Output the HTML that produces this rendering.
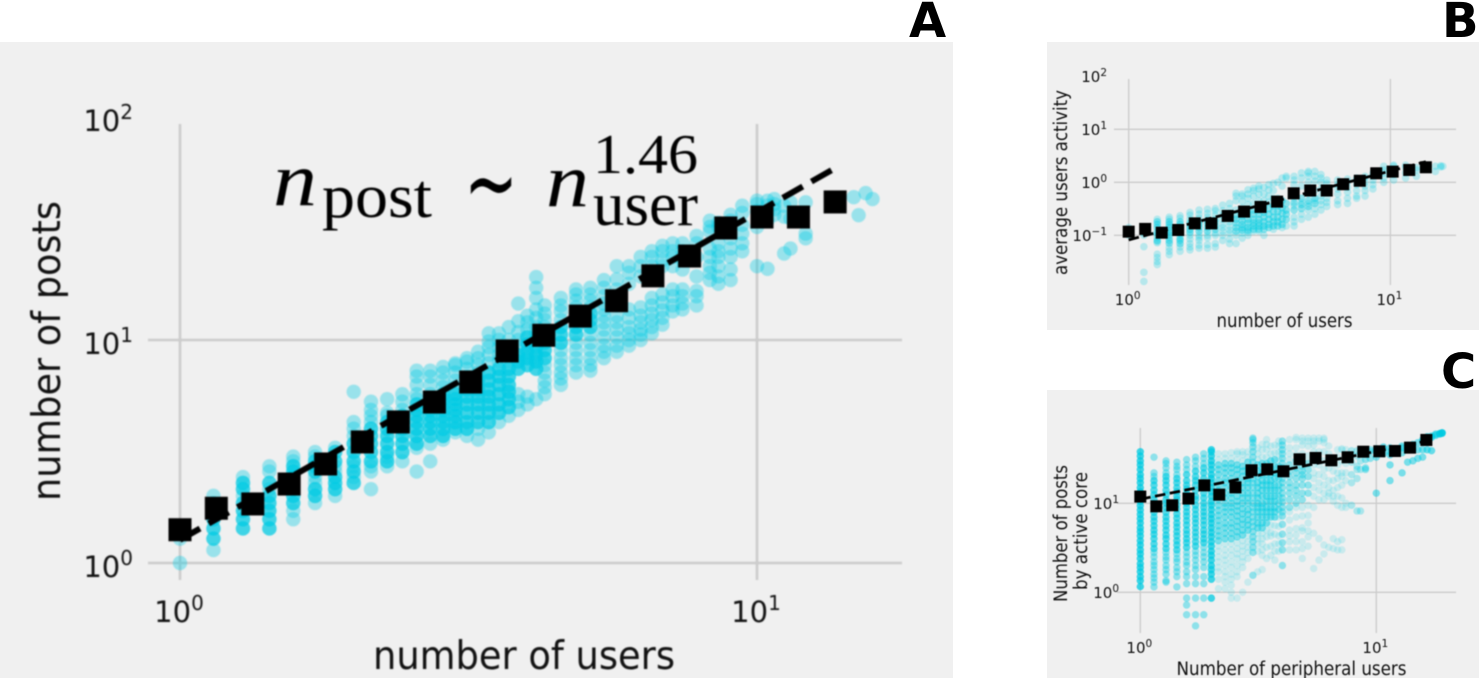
<!DOCTYPE html>
<html lang="en">
<head>
<meta charset="utf-8">
<title>Posts versus users scaling</title>
<style>
html,body{margin:0;padding:0;background:#fff;width:1479px;height:678px;overflow:hidden}
svg{display:block;position:absolute;left:0;top:0}
text{font-family:"DejaVu Sans","Liberation Sans",sans-serif;fill:#111}
.math{font-family:"Liberation Serif",serif;fill:#000}
.letter{font-weight:bold;font-size:48px;fill:#000}
.soft-a{filter:blur(.7px)}
.soft-b{filter:blur(.45px)}
</style>
</head>
<body>
<svg id="figure" width="1479" height="678" viewBox="0 0 1479 678" xmlns="http://www.w3.org/2000/svg">
  <rect x="0" y="42" width="953" height="636" fill="#f0f0f0"/>
  <rect x="1047" y="42" width="432" height="288" fill="#f0f0f0"/>
  <rect x="1047" y="390" width="432" height="288" fill="#f0f0f0"/>
  <g id="panelA" class="soft-a"></g>
  <g id="panelB" class="soft-b"></g>
  <g id="panelC" class="soft-b"></g>

  <g class="soft-a">
    <text x="524" y="669" font-size="39" text-anchor="middle" textLength="302" lengthAdjust="spacingAndGlyphs">number of users</text>
    <text transform="translate(60 351) rotate(-90)" font-size="39" text-anchor="middle" textLength="300" lengthAdjust="spacingAndGlyphs">number of posts</text>
    <text class="math" x="273" y="205" font-size="76" font-style="italic" textLength="44" lengthAdjust="spacingAndGlyphs">n</text>
    <text class="math" x="322" y="217" font-size="62" textLength="110" lengthAdjust="spacingAndGlyphs">post</text>
    <text class="math" x="464" y="217" font-size="100" textLength="54" lengthAdjust="spacingAndGlyphs">∼</text>
    <text class="math" x="546" y="206" font-size="76" font-style="italic" textLength="43" lengthAdjust="spacingAndGlyphs">n</text>
    <text class="math" x="593" y="225" font-size="62" textLength="105" lengthAdjust="spacingAndGlyphs">user</text>
    <text class="math" x="593" y="173" font-size="56" textLength="105" lengthAdjust="spacingAndGlyphs">1.46</text>
  </g>
  <g class="soft-b">
    <text x="1284.5" y="327" font-size="18.5" text-anchor="middle" textLength="136" lengthAdjust="spacingAndGlyphs">number of users</text>
    <text transform="translate(1067 182.5) rotate(-90)" font-size="18.5" text-anchor="middle" textLength="185" lengthAdjust="spacingAndGlyphs">average users activity</text>
  </g>
  <g class="soft-b">
    <text x="1291.5" y="675" font-size="18.5" text-anchor="middle" textLength="230" lengthAdjust="spacingAndGlyphs">Number of peripheral users</text>
    <text transform="translate(1067 533.5) rotate(-90)" font-size="18.5" text-anchor="middle" textLength="137" lengthAdjust="spacingAndGlyphs">Number of posts</text>
    <text transform="translate(1087 531) rotate(-90)" font-size="18.5" text-anchor="middle" textLength="118" lengthAdjust="spacingAndGlyphs">by active core</text>
  </g>
  <text class="letter" x="909" y="37">A</text>
  <text class="letter" x="1442" y="37">B</text>
  <text class="letter" x="1441" y="388">C</text>
</svg>

<script>
// ---------- Panel A data ----------
const aXTickValues = [1, 10];
const aXTickExponents = ["0", "1"];
const aYTickValues = [1, 10, 100];
const aYTickExponents = ["0", "1", "2"];
const aBinUsers = [1, 1.156, 1.337, 1.546, 1.788, 2.07, 2.39, 2.76, 3.19, 3.69, 4.27, 4.94, 5.71, 6.6, 7.64, 8.83, 10.2, 11.8, 13.66];
const aBinPosts = [1.41, 1.76, 1.84, 2.26, 2.78, 3.49, 4.29, 5.27, 6.48, 8.93, 10.5, 12.8, 15.0, 19.4, 23.8, 31.8, 35.6, 35.6, 41.6];
const aFitUsers = [1, 13.66];
const aFitPosts = [1.27, 59];
const aWeeklyUsers = [7,8,9,10,11,12,13,14,15,16,17,18,19,20,21,22,23,24,25,26,27,28,29,30,32,34,36,38,40,42,44,46,48,50,52,55,58,60,63,66,70,73,75,78,80,85,103,105,108,111];
const aWeeklyPosts = [
[7,9,10],
[8,9,10,11,12,13,14],
[10,11,12,13,14,15,16,17],
[10,11,12,13,14,15,16,18,19],
[11,12,13,14,15,16,17,18,19,20,21],
[13,14,15,16,17,18,19,20,21,22],
[14,15,16,17,18,19,20,22,23],
[16,17,18,19,20,22,24,26,28,30,41],
[15,18,19,20,22,24,26,28,30,32,34,37],
[19,20,21,22,24,26,28,30,32,33,38],
[20,22,24,26,28,30,32,34,37,40],
[18,23,24,26,28,30,32,34,36,38,40,44,48,51],
[20,24,26,28,30,32,34,36,38,40,44,48,51],
[25,26,28,30,32,34,36,38,40,43,46,50,53],
[27,28,30,32,34,36,38,40,43,46,50,54,55],
[26,28,30,33,36,39,42,45,48,52,56,58],
[25,28,30,33,36,39,42,46,50,54,58,62],
[27,30,33,36,39,42,46,50,55,60,65,69,75],
[30,33,36,40,44,48,52,56,60,65,70,75],
[32,35,38,41,44,48,52,56,60,65,70,80],
[34,37,40,52,56,60,65,70,76,85,102],
[36,39,54,58,62,67,72,78,84,90],
[38,52,56,60,65,70,75,80,88,96,108,120,134],
[40,43,46,50,54,58,63,68,74,80,86,92,100],
[44,47,50,54,58,63,68,74,80,86,94,100,108],
[50,54,58,63,68,74,80,86,92,98,105,112,118],
[51,54,58,63,68,74,80,86,92,98,105,112,120],
[58,62,66,72,78,84,90,96,102,110,120,130],
[62,66,72,78,84,90,100,118,131,150],
[66,70,75,80,88,96,125,140,150],
[70,74,78,84,90,98,135,150,165],
[75,80,86,92,100,108,150,165,175],
[82,88,95,103,112,150,160,175,185],
[94,100,110,118,150,165,175,190],
[96,102,110,118,145,160,175,190],
[100,110,116,135,165,190,205],
[130,140,150,165,180,215,225,240],
[125,135,150,165,175,190,225,235],
[130,145,165,180,200,240,255],
[175,190,210,230,260,280],
[150,225,265,285,295],
[146,240,260,280,295],
[255,270,285,300],
[171,250,280],
[180,245,290],
[200,210,290],
[306],
[254],
[319],
[300]
];
const aCoreUsers = [8,9,10,11,12,13,14,15,16,17,18,19,20,21,22,23,24,25,26,27,28,29,30,32,34,36];
const aCorePosts = [
[9,10,11],
[10,11,12,13,15,16],
[10,11,12,13,14,16],
[13,14,15,16,17,18,19],
[14,15,18,19,20],
[15,16,17,20,22],
[16,18,20,22,24],
[20,22,24,26,28],
[20,22,24,26,28,30],
[22,24,26,28,30,32],
[24,26,28,30,32,34,36],
[26,28,30,32,34,36,38],
[26,28,30,32,34,36,38,40],
[28,30,32,34,36,38,40],
[28,30,33,36,39,42],
[30,33,36,39,42,46],
[30,33,36,39,42,46,50],
[33,36,40,44,48,52],
[35,38,41,44,48,52],
[52,56,60],
[54,58,62,67,72],
[52,56,60,65,70],
[58,63,68,74],
[68,74,80],
[74,80,86],
[80,86,92]
];

// ---------- Panel B data ----------
const bXTickValues = [1, 10];
const bXTickExponents = ["0", "1"];
const bYTickValues = [0.1, 1, 10, 100];
const bYTickExponents = ["−1", "0", "1", "2"];
const bBinUsers = [1, 1.156, 1.337, 1.546, 1.788, 2.07, 2.39, 2.76, 3.19, 3.69, 4.27, 4.94, 5.71, 6.6, 7.64, 8.83, 10.2, 11.8, 13.66];
const bBinActivity = [0.117, 0.132, 0.112, 0.126, 0.168, 0.168, 0.232, 0.28, 0.343, 0.432, 0.62, 0.70, 0.70, 0.92, 1.07, 1.48, 1.59, 1.71, 1.92];
const bFitUsers = [1, 13.66];
const bFitActivity = [0.082, 2.45];
const bWeeklyUsers = [7,8,9,10,11,12,13,14,15,16,17,18,19,20,21,22,23,24,25,26,27,28,30,32,34,36,38,40,44,48,52,56,60,66,72,80,88,104,109,111];
const bActivity = [
[.1,.11,.12,.14],
[.0135,.02,.061,.1,.11,.125,.143],
[.028,.032,.038,.044,.076,.08,.09,.1,.11,.12,.14,.16,.18,.2],
[.043,.05,.058,.072,.08,.09,.1,.11,.12,.14,.16,.18,.2,.22],
[.05,.06,.07,.08,.085,.09,.1,.11,.125,.14,.16,.18,.21,.235],
[.053,.06,.07,.085,.1,.115,.13,.15,.17,.2,.24,.27],
[.057,.065,.08,.09,.1,.12,.14,.16,.18,.21,.25,.3],
[.057,.067,.09,.1,.12,.14,.165,.19,.22,.26,.31],
[.06,.07,.1,.11,.13,.15,.18,.2,.24,.29,.32],
[.08,.1,.12,.14,.16,.2,.24,.29,.37],
[.07,.085,.11,.125,.15,.18,.21,.26,.32,.4],
[.07,.1,.12,.14,.17,.2,.24,.3,.45,.55,.62],
[.088,.11,.125,.14,.16,.19,.23,.28,.33,.44,.55,.6],
[.1,.115,.125,.14,.17,.2,.25,.3,.38,.5,.6,.72],
[.12,.13,.15,.17,.2,.25,.3,.4,.55,.7,.77],
[.12,.13,.15,.17,.2,.25,.3,.45,.6,.75,.85],
[.1,.13,.15,.18,.22,.27,.33,.45,.6,.8],
[.14,.16,.2,.25,.32,.42,.55,.72,.9],
[.13,.15,.18,.22,.28,.36,.5,.7,.95],
[.15,.18,.22,.28,.36,.5,1.0],
[.14,.16,.2,.26,.33,.45,.85,1.2],
[.15,.2,.25,.3,.4,1.2,1.3],
[.15,.18,.22,.3,.4,.55,.9,1.1,1.3],
[.2,.25,.32,.38,.5,.85,1.2,1.5],
[.22,.3,.35,.45,.6,1.0,1.3,1.5,1.6],
[.25,.32,.4,.5,.7,1.05,1.3,1.6],
[.3,.38,.45,.55,.75,1.0,1.2,1.4],
[.35,.42,.5,.7,.95,1.1],
[.38,.45,.6,.75,.9,1.1],
[.4,.5,.65,.8,1.0,1.15],
[.5,.55,.7,.9,1.1,1.2],
[.55,.7,.85,1.0,1.2,1.3],
[.75,.9,1.1,1.3,1.5],
[1.0,1.2,1.5,1.7,2.0],
[1.1,1.4,1.7,2.0,2.1],
[1.2,1.5,1.9,2.1],
[1.3,1.7,1.9],
[1.6,2.0],
[1.95,2.05],
[2.0]
];
const bCoreUsers = [9,10,11,12,13,14,15,18,19,20,21,22,23,24,25,26,27,28,30,32,34,36];
const bCoreActivity = [
[.11,.14,.16,.18,.072,.08],
[.1,.12,.14,.16,.18,.07,.08],
[.11,.125,.14,.16,.18,.07,.08],
[.115,.13,.15,.17],
[.12,.14,.16,.18],
[.12,.14,.165,.19],
[.13,.15,.18],
[.12,.14,.17,.2,.24],
[.125,.14,.16,.19,.23],
[.125,.14,.17,.2,.25],
[.13,.15,.17,.2,.25,.3],
[.13,.15,.17,.2,.25,.3],
[.13,.15,.18,.22,.27,.33],
[.14,.16,.2,.25,.32],
[.15,.18,.22,.28,.36],
[.15,.18,.22,.28,.36],
[.16,.2,.26,.33,.45],
[.2,.25,.3,.4],
[.3,.36,.42,.5],
[.32,.38,.42,.5],
[.35,.4,.45],
[.4,.45,.5]
];

// ---------- Panel C data ----------
const cXTickValues = [1, 10];
const cXTickExponents = ["0", "1"];
const cYTickValues = [1, 10];
const cYTickExponents = ["0", "1"];
const cBinUsers = [1.0, 1.169, 1.366, 1.60, 1.868, 2.16, 2.53, 2.96, 3.45, 4.04, 4.73, 5.53, 6.45, 7.56, 8.81, 10.3, 12.0, 13.9, 16.3];
const cBinPosts = [11.9, 9.25, 9.5, 11.3, 15.9, 12.5, 15.1, 23.5, 24.1, 22.9, 31.2, 32.3, 30.4, 32.9, 38, 38.4, 38.7, 42.2, 51.5];
const cFitUsers = [1, 15.9];
const cFitPosts = [11.1, 49.3];
const cWeeklyUsers = [7,8,9,10,11,12,13,14,15,16,17,18,19,20,21,22,23,24,25,26,27,28,30,32,34,36,38,40,42,44,46,48,50,52,55,58,60,63,66,70,75,80,90,95,100,105,110,115,120,125,130,133];
const cObservationCount = [8,3,3,3,3,3,3,8,1,1,1,1,1,1,3,1,1,1,1,1,1,3,1,1,1,1,1,1,1,1,1,1,1,1,2,2,2,3,3,4,4,4,4,4,4,4,4,5,5,5,6,6];
const cPosts = [
[1.16,1.35,1.5,1.7,1.9,2.1,2.4,2.7,3,3.4,3.8,4.3,4.8,5.3,6,6.7,7.5,8.4,9.4,10.5,12,13.5,15,17,19,21,24,27,30,34,38],
[1.15,1.3,1.45,1.6,1.8,2,2.2,2.5,2.8,3.1,3.5,4,4.5,5,5.6,6.3,7,7.9,8.9,10,11,12.5,14,16,18,20,22,33],
[1.3,1.35,1.6,1.8,2,2.3,2.5,2.8,3.1,3.5,4,4.4,5,5.6,6.3,7,7.9,8.9,10,11,12.5,14,16,18,20,22,25,28,30],
[1.15,1.5,1.7,1.9,2.2,2.4,2.7,3,3.4,3.8,4.3,4.8,5.4,6,6.8,7.6,8.6,9.6,11,12,13.5,15,17,19,21,24,26,29],
[.56,.72,.86,1.25,1.5,1.7,2,2.2,2.5,2.8,3.2,3.6,4,4.5,5,5.7,6.4,7.2,8,9,10,11.5,13,14.5,16,18,21,24,27,31],
[.42,.56,.86,1.25,1.5,1.8,2,2.3,2.6,2.9,3.3,3.7,4.2,4.7,5.3,6,6.7,7.5,8.5,9.5,11,12,14,16,18,20,23,26,30,33],
[.56,.86,1.25,1.5,1.9,2.2,2.5,2.8,3.2,3.6,4,4.5,5,5.7,6.4,7.2,8,9,10,11.5,13,15,17,19,22,25,28,32,36],
[.86,1.4,1.6,1.8,2,2.3,2.6,2.9,3.3,3.7,4.2,4.7,5.3,6,6.7,7.5,8.5,9.5,10.5,12,13.5,15,17,19,21,24,27,30,34,38,40],
[1.1,1.4,1.7,1.9,2.2,2.5,2.9,3.3,3.8,4.3,4.9,5.6,6.4,7.3,8.3,9.5,11,12.5,14,16,18,21,24,27,31,36],
[1.1,1.3,1.5,1.7,2,2.3,2.6,3,3.5,4,4.6,5.3,6,7,8,9,10,11.5,13,15,17,19,22,25,28,32,36],
[.86,1,1.2,1.4,1.6,1.9,2.2,2.6,3,3.5,4,4.6,5.3,6,7,8,9,10,11.5,13,15,17,19,22,25,28,32,37],
[.86,1.5,1.7,2,2.4,2.7,3.1,3.6,4.2,4.8,5.5,6.3,7.2,8.2,9.3,10.5,12,14,16,18,21,24,27,31,36,38],
[1,1.9,2.2,2.5,2.9,3.3,3.8,4.4,5,5.8,6.6,7.6,8.7,10,11.5,13,15,17,20,23,26,30,35,38],
[1.3,2.4,2.8,3.2,3.7,4.3,5,5.7,6.5,7.5,8.5,10,11.5,13,15,17,19,22,25,29,33,38],
[1.55,2.8,3.2,3.7,4.2,4.8,5.5,6.2,7,8,9,10,11.5,13,15,17,19,22,25,29,33,38,43,48,52,54],
[1.7,2.9,3.5,4,4.6,5.3,6,7,8,9,10,11.5,13,15,17,20,23,27,31,36,42],
[1.8,2.6,3,3.5,4,4.6,5.3,6,7,8,9,10,12,14,16,18,21,24,28,33,40,46],
[2.4,3.2,4.2,5,6,7,8,9,10.5,12,14,16,18,21,24,28,33,40,46,52],
[2.6,3.3,4.3,4.7,5.7,7,8,9,10.5,12,14,16,18,21,25,30,36,44],
[2.3,2.9,3.5,4.5,5.6,7,8,9,10.5,12,14,16,19,22,26,31,37,45],
[2.9,3.5,4.3,5.5,7,8.5,10,12,14,16,19,22,26,31,37,44,50],
[2,3,3.6,4.5,5.8,7.2,8,9,10.3,11.5,13,15,17,19,22,25,28,32,36,40,45,50],
[3,3.7,4.3,5,6.5,8,9,11,13,15,17,20,23,27,31,36,42,52],
[3,3.7,4.4,5.2,7,9,10,12,14,16,19,22,25,30,35,42,52,55],
[2.4,3.1,3.7,4.9,5.3,7.2,9,11,13,16,19,21,23,26,30,36,45,50,54],
[3.3,4.2,4.9,6,7.3,9.5,13,16,20,24,28,34,44,50,54],
[1.85,4.6,9,12,15,19,22,27,32,38,45,50,54],
[2.3,4,11,14,17,21,27,32,38,50,54],
[2.7,3.4,11,13,16,20,24,30,38,48,52,54],
[3.2,12,13,15,18,25,30,36,44],
[3.1,4,10.5,12,14,18,23,28,32],
[3,3.7,9.5,12,15,19,22,27,33,40],
[3,3.9,9,11.5,16,20,22,30,40,41],
[9,10,18,22,28,32,40],
[9.5,17,21,29,35,39],
[8.2,19,24,26,34,39],
[8.2,24,30,37,40],
[24,25,31,36,39,40],
[32,38,40],
[13,33,38,41],
[36,41,43],
[18,27,35,38,42],
[22,37,42,44],
[29,40,45],
[30,40,46],
[32,40,48],
[33,40,50,52],
[40,53,56],
[39,55,57],
[58,60],
[60,61],
[61,62,62]
];
const cCoreUsers = [8,9,10,11,12,13,15,16,17,18,19,20,22,23,24,25,26,27,30,32,34,36];
const cCoreObservationCount = [3,3,3,3,3,3,3,3,3,3,3,3,3,3,3,3,3,2,2,2,2,2];
const cCorePosts = [
[3.1,3.5,4,4.5,5,5.6,6.3,7,7.9,8.9,10,11,12.5,14,16,18],
[3.1,3.5,4,4.4,5,5.6,6.3,7,7.9,8.9,10,11,12.5,14,16,18,20],
[3,3.4,3.8,4.3,4.8,5.4,6,6.8,7.6,8.6,9.6,11,12,13.5,15,17,19],
[3.2,3.6,4,4.5,5,5.7,6.4,7.2,8,9,10,11.5,13,14.5,16,18,21],
[3.3,3.7,4.2,4.7,5.3,6,6.7,7.5,8.5,9.5,11,12,14,16,18,20,23],
[3.6,4,4.5,5,5.7,6.4,7.2,8,9,10,11.5,13,15,17,19,22,25],
[3.8,4.3,4.9,5.6,6.4,7.3,8.3,9.5,11,12.5,14,16,18,21,24,27],
[4,4.6,5.3,6,7,8,9,10,11.5,13,15,17,19,22,25,28],
[4,4.6,5.3,6,7,8,9,10,11.5,13,15,17,19,22,25,28],
[4.2,4.8,5.5,6.3,7.2,8.2,9.3,10.5,12,14,16,18,21,24,27],
[4.4,5,5.8,6.6,7.6,8.7,10,11.5,13,15,17,20,23,26],
[5,5.7,6.5,7.5,8.5,10,11.5,13,15,17,19,22,25,29],
[5.3,6,7,8,9,10,11.5,13,15,17,20,23,27],
[5.3,6,7,8,9,10,12,14,16,18,21,24,28],
[6,7,8,9,10.5,12,14,16,18,21,24,28],
[7,8,9,10.5,12,14,16,18,21,25,30],
[7,8,9,10.5,12,14,16,19,22,26,31],
[8.5,10,12,14,16,19,22,26],
[9,11,13,15,17,20,23,27],
[10,12,14,16,19,22,25,30],
[11,13,16,19,21,23,26,30],
[13,16,20,24,28]
];

// ---------- Drawing helpers ----------
const SVG_NS = "http://www.w3.org/2000/svg";
const CYAN = "#00cbe2";
const GRID = "#cbcbcb";

function logAxis(origin, pixelsPerDecade) {
  return function (value) { return origin + pixelsPerDecade * Math.log10(value); };
}

function svgEl(parent, tag, attrs) {
  const el = document.createElementNS(SVG_NS, tag);
  for (const key in attrs) { el.setAttribute(key, attrs[key]); }
  parent.appendChild(el);
  return el;
}

function drawGrid(parent, cfg) {
  cfg.xTicks.forEach(function (tick) {
    const line = svgEl(parent, "line", { x1: cfg.sx(tick), x2: cfg.sx(tick), y1: cfg.vTop, y2: cfg.vBottom, stroke: GRID, "stroke-width": cfg.gridWidth });
    
    
  });
  cfg.yTicks.forEach(function (tick) {
    if (cfg.sy(tick) < cfg.vTop) { return; }
    const line = svgEl(parent, "line", { x1: cfg.hLeft, x2: cfg.hRight, y1: cfg.sy(tick), y2: cfg.sy(tick), stroke: GRID, "stroke-width": cfg.gridWidth });
    
    
  });
}

function tickLabel(parent, x, y, anchor, exponent, size, expSize, rise) {
  const label = svgEl(parent, "text", { x: x, y: y, "text-anchor": anchor, "font-size": size });
  
  
  const base = svgEl(label, "tspan", {});
  base.textContent = "10";
  const power = svgEl(label, "tspan", { "font-size": expSize, dy: -rise });
  power.textContent = exponent;
}

function drawTicks(parent, cfg) {
  cfg.xTicks.forEach(function (tick, i) {
    tickLabel(parent, cfg.sx(tick) + cfg.xLabelShift, cfg.xLabelY, "middle", cfg.xExps[i], cfg.tickSize, cfg.expSize, cfg.rise);
  });
  cfg.yTicks.forEach(function (tick, i) {
    tickLabel(parent, cfg.yLabelX, cfg.sy(tick) + cfg.yLabelDy, "end", cfg.yExps[i], cfg.tickSize, cfg.expSize, cfg.rise);
  });
}

function drawScatter(parent, cfg, columns, lists, divisor, counts) {
  columns.forEach(function (column, c) {
    const count = counts ? counts[c] : 1;
    const opacity = 1 - Math.pow(1 - cfg.alpha, count);
    lists[c].forEach(function (value) {
      const yValue = divisor ? value / divisor : value;
      const dot = svgEl(parent, "circle", { cx: cfg.sx(column / 7), cy: cfg.sy(yValue), r: cfg.radius, fill: CYAN, "fill-opacity": opacity });
      
      
    });
  });
}

function drawFit(parent, cfg, xs, ys) {
  const fit = svgEl(parent, "line", {
    x1: cfg.sx(xs[0]), y1: cfg.sy(ys[0]), x2: cfg.sx(xs[1]), y2: cfg.sy(ys[1]),
    stroke: "#000", "stroke-width": cfg.fitWidth, "stroke-dasharray": cfg.fitDash
  });
  
  
}

function drawBins(parent, cfg, xs, ys) {
  xs.forEach(function (x, i) {
    const square = svgEl(parent, "rect", {
      x: cfg.sx(x) - cfg.square / 2, y: cfg.sy(ys[i]) - cfg.square / 2,
      width: cfg.square, height: cfg.square, fill: "#000"
    });
    
    
  });
}

// ---------- Panel A ----------
const cfgA = {
  sx: logAxis(180, 577), sy: logAxis(563, -223),
  xTicks: aXTickValues, yTicks: aYTickValues, xExps: aXTickExponents, yExps: aYTickExponents,
  vTop: 124, vBottom: 580, hLeft: 148, hRight: 902, gridWidth: 2.6,
  tickSize: 29, expSize: 20, rise: 12, xLabelY: 622, xLabelShift: -1, yLabelX: 133, yLabelDy: 14,
  radius: 7.2, alpha: 0.36, fitWidth: 6, fitDash: "23 10", square: 23
};
const gA = document.getElementById("panelA");
drawGrid(gA, cfgA);
drawTicks(gA, cfgA);
drawScatter(gA, cfgA, aWeeklyUsers, aWeeklyPosts, 7, null);
drawScatter(gA, cfgA, aCoreUsers, aCorePosts, 7, null);
drawScatter(gA, cfgA, aCoreUsers, aCorePosts, 7, null);
drawFit(gA, cfgA, aFitUsers, aFitPosts);
drawBins(gA, cfgA, aBinUsers, aBinPosts);

// ---------- Panel B ----------
const cfgB = {
  sx: logAxis(1128.7, 261.7), sy: logAxis(182.3, -53),
  xTicks: bXTickValues, yTicks: bYTickValues, xExps: bXTickExponents, yExps: bYTickExponents,
  vTop: 79, vBottom: 285, hLeft: 1114, hRight: 1456, gridWidth: 1.3,
  tickSize: 15, expSize: 10.5, rise: 6, xLabelY: 305, xLabelShift: -1, yLabelX: 1107, yLabelDy: 5.5,
  radius: 3.8, alpha: 0.24, fitWidth: 2.8, fitDash: "10.5 4.5", square: 12
};
const gB = document.getElementById("panelB");
drawGrid(gB, cfgB);
drawTicks(gB, cfgB);
drawScatter(gB, cfgB, bWeeklyUsers, bActivity, 0, null);
drawScatter(gB, cfgB, bCoreUsers, bCoreActivity, 0, null);
drawFit(gB, cfgB, bFitUsers, bFitActivity);
drawBins(gB, cfgB, bBinUsers, bBinActivity);

// ---------- Panel C ----------
const cfgC = {
  sx: logAxis(1140.3, 236), sy: logAxis(592.3, -89),
  xTicks: cXTickValues, yTicks: cYTickValues, xExps: cXTickExponents, yExps: cYTickExponents,
  vTop: 428, vBottom: 633, hLeft: 1117, hRight: 1456, gridWidth: 1.3,
  tickSize: 15, expSize: 10.5, rise: 6, xLabelY: 653, xLabelShift: -1, yLabelX: 1119, yLabelDy: 5.5,
  radius: 3.7, alpha: 0.16, fitWidth: 2.8, fitDash: "10.5 4.5", square: 12
};
const gC = document.getElementById("panelC");
drawGrid(gC, cfgC);
drawTicks(gC, cfgC);
drawScatter(gC, cfgC, cWeeklyUsers, cPosts, 0, cObservationCount);
drawScatter(gC, cfgC, cCoreUsers, cCorePosts, 0, cCoreObservationCount);
drawFit(gC, cfgC, cFitUsers, cFitPosts);
drawBins(gC, cfgC, cBinUsers, cBinPosts);
</script>
</body>
</html>
